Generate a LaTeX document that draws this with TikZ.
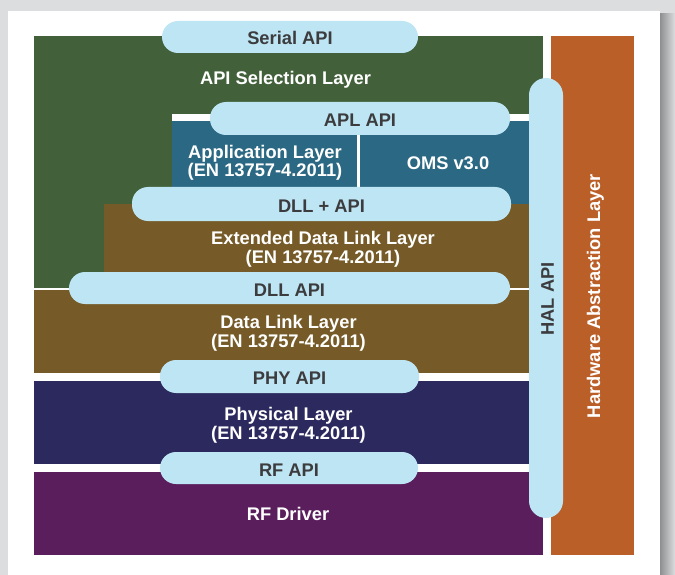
\documentclass[tikz,border=0pt]{standalone}
\usepackage{fontspec}
\setmainfont{Liberation Sans}
\definecolor{bggrey}{HTML}{DCDDDF}
\definecolor{shadowgrey}{HTML}{8E8F91}
\definecolor{apigreen}{HTML}{42613A}
\definecolor{appteal}{HTML}{2B6883}
\definecolor{dllbrown}{HTML}{765B28}
\definecolor{phynavy}{HTML}{2C295E}
\definecolor{rfpurple}{HTML}{5A1E5D}
\definecolor{halorange}{HTML}{BB5F29}
\definecolor{pillblue}{HTML}{BEE5F4}
\definecolor{pilltext}{HTML}{3C3C3E}
\tikzset{
  pill/.style={fill=pillblue, rounded corners=16pt, inner sep=0pt},
  pilllabel/.style={text=pilltext, inner sep=0pt, anchor=base,
    font=\fontsize{18.3}{19}\selectfont\bfseries},
  layertext/.style={text=white, inner sep=0pt, anchor=base,
    font=\fontsize{18.3}{19}\selectfont\bfseries},
}
\begin{document}
\begin{tikzpicture}[x=1pt,y=-1pt]
\useasboundingbox (0,0) rectangle (675,575);
% background and panel
\fill[bggrey] (0,0) rectangle (675,575);
\shade[left color=shadowgrey, right color=bggrey] (660,14) rectangle (675,575);
\fill[white] (8,11) rectangle (660,575);
% layers
\fill[apigreen] (34,36) rectangle (543,287.5);
\fill[appteal] (172,121) rectangle (529,204);
\fill[white] (172,114) rectangle (529,121);
\fill[white] (357,121) rectangle (359.5,187);
\fill[dllbrown] (104,204) rectangle (529,287.5);
\fill[dllbrown] (34,290) rectangle (529,373);
\fill[phynavy] (34,381) rectangle (529,464);
\fill[rfpurple] (34,472) rectangle (543,555);
\fill[halorange] (551,36) rectangle (634,555);
% HAL pill
\fill[pillblue, rounded corners=17pt] (529,78) rectangle (563,518);
% API pills
\node[pill, minimum width=256pt, minimum height=32pt] (serial) at (290,37) {};
\node[pill, minimum width=300pt, minimum height=33pt] (apl) at (360,118.5) {};
\node[pill, minimum width=379pt, minimum height=34pt] (dllplus) at (321.5,204) {};
\node[pill, minimum width=441pt, minimum height=32pt] (dll) at (289.5,288) {};
\node[pill, minimum width=259pt, minimum height=33pt] (phy) at (289.5,376.5) {};
\node[pill, minimum width=258pt, minimum height=32pt] (rf) at (289,468) {};
\node[pilllabel] (seriall) at (290,45) {Serial API};
\node[pilllabel] (apll) at (360,126.3) {APL API};
\node[pilllabel] (dllplusl) at (321.5,212) {DLL + API};
\node[pilllabel] (dlll) at (289.5,296) {DLL API};
\node[pilllabel] (phyl) at (289.5,384.5) {PHY API};
\node[pilllabel] (rfl) at (289,476) {RF API};
% layer labels
\node[layertext] (apisel) at (285.5,84.3) {API Selection Layer};
\node[layertext] (applayer1) at (265,159) {Application Layer};
\node[layertext] (applayer2) at (265,177) {(EN 13757-4.2011)};
\node[layertext] (oms) at (448,169.3) {OMS v3.0};
\node[layertext] (extdll1) at (323,244) {Extended Data Link Layer};
\node[layertext] (extdll2) at (323,263.3) {(EN 13757-4.2011)};
\node[layertext] (dlllayer1) at (288.5,328.3) {Data Link Layer};
\node[layertext] (dlllayer2) at (288.5,347.3) {(EN 13757-4.2011)};
\node[layertext] (phylayer1) at (288.5,420.7) {Physical Layer};
\node[layertext] (phylayer2) at (288.5,439.3) {(EN 13757-4.2011)};
\node[layertext] (rfdriver) at (288,520.7) {RF Driver};
\node[pilllabel, anchor=center, rotate=90] (halapi) at (547.5,299) {HAL API};
\node[layertext, rotate=90] (hal) at (600,296) {Hardware Abstraction Layer};
\end{tikzpicture}
\end{document}
